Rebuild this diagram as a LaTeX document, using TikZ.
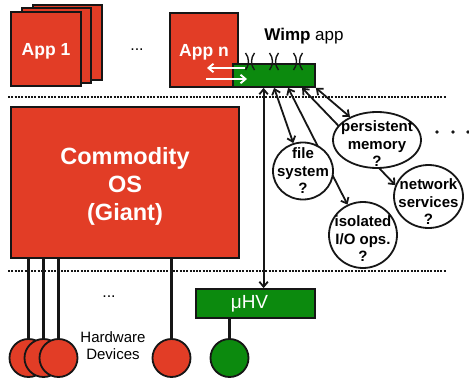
\documentclass[tikz,border=0pt]{standalone}
\usepackage{fontspec}
\setmainfont{Liberation Sans}
\usetikzlibrary{arrows.meta,shapes.geometric,backgrounds}
\definecolor{osred}{RGB}{226,61,38}
\definecolor{wgreen}{RGB}{12,138,14}
\definecolor{edge}{RGB}{22,22,22}

\begin{document}
\begin{tikzpicture}[x=1pt,y=-1pt,
  >={Straight Barb[length=5pt,width=8.5pt]},
  redbox/.style={draw=edge, line width=2.2pt, fill=osred, text=white,
    font=\fontsize{17.5}{20}\selectfont\bfseries, inner sep=0pt, text depth=0pt},
  greenbox/.style={draw=edge, line width=1.8pt, fill=wgreen, inner sep=0pt},
  bubble/.style={ellipse, draw=edge, line width=1.8pt, fill=white, inner sep=0pt},
  bubbletext/.style={align=center, inner sep=0pt,
    font=\fontsize{15}{17.5}\selectfont\bfseries},
  device/.style={circle, draw=edge, line width=1.8pt, minimum size=38pt, inner sep=0pt},
  link/.style={edge, line width=1.8pt, <->},
  wire/.style={edge, line width=2.2pt},
  dotline/.style={edge, line width=2.2pt, dash pattern=on 2pt off 1.3pt},
  whitearrow/.style={white, line width=1.9pt, ->},
  junction/.style={edge, line width=1.4pt},
  plain/.style={font=\fontsize{15}{17}\selectfont, align=center, inner sep=0pt}]

\useasboundingbox (0,0) rectangle (469,380);

% application stack
\node[redbox, minimum width=69pt, minimum height=75pt] (app1c) at (67.5,42.5) {};
\node[redbox, minimum width=69pt, minimum height=75pt] (app1b) at (56.5,45.5) {};
\node[redbox, minimum width=70pt, minimum height=74pt] (app1) at (46,49) {App 1};
\node[font=\fontsize{16}{18}\selectfont] (adots) at (137,50) {...};
\node[redbox, minimum width=68pt, minimum height=74pt] (appn) at (204,50) {App n};

% Wimp app bar
\node[greenbox, minimum width=82pt, minimum height=23pt] (bar) at (274,75.5) {};
\node[font=\fontsize{17}{20}\selectfont] (wlabel) at (304,36) {\textbf{Wimp} app};

% commodity OS
\node[redbox, minimum width=228pt, minimum height=151pt] (os) at (125,182.5) {};
\node[text=white, font=\fontsize{23.5}{28}\selectfont\bfseries, align=center, inner sep=0pt]
  (oslabel) at ([yshift=-4pt]os.center) {Commodity\\OS\\(Giant)};

% micro-hypervisor
\node[greenbox, minimum width=119pt, minimum height=29pt] (hv) at (255.5,303.5) {};
\node[text=white, font=\fontsize{19}{22}\selectfont, inner sep=0pt]
  (hvlabel) at ([xshift=-6pt]hv.center) {μHV};

% services
\node[bubble, minimum width=60pt, minimum height=57pt,
  label={[bubbletext]center:file\\system\\?}] (fs) at (303,171) {};
\node[bubble, minimum width=88pt, minimum height=56pt,
  label={[bubbletext, yshift=-4pt]center:persistent\\memory\\?}] (pm) at (377,140) {};
\node[bubble, minimum width=69pt, minimum height=63pt,
  label={[bubbletext, yshift=-5.5pt]center:network\\services\\?}] (net) at (428.5,196.5) {};
\node[bubble, minimum width=68pt, minimum height=66pt,
  label={[bubbletext, yshift=-4pt]center:isolated\\I/O ops.\\?}] (iso) at (363,235) {};

% hardware devices
\node[device, fill=osred] (d1) at (28.5,358) {};
\node[device, fill=osred] (d2) at (43.5,358) {};
\node[device, fill=osred] (d3) at (58.5,358) {};
\node[device, fill=osred] (d4) at (171.5,358) {};
\node[device, fill=wgreen] (d5) at (229.5,358) {};
\node[font=\fontsize{16}{18}\selectfont] (hdots) at (109,297) {...};
\node[plain] (hwlabel) at (113,345.5) {Hardware\\Devices};

% connection points on the bottom of the bar
\coordinate (b1) at ([xshift=31.5pt]bar.south west);
\coordinate (b2) at ([xshift=42pt]bar.south west);
\coordinate (b3) at ([xshift=56pt]bar.south west);
\coordinate (b4) at ([xshift=70pt]bar.south west);

\begin{pgfonlayer}{background}
  % privilege boundaries
  \draw[dotline] (8,97) -- (446,97);
  \draw[dotline] (8,271) -- (446,271);
  % device wires
  \draw[wire] (os.south -| d1) -- (d1);
  \draw[wire, line width=3pt] (os.south -| d2) -- (d2);
  \draw[wire] (os.south -| d3) -- (d3);
  \draw[wire] (os.south -| d4) -- (d4);
  \draw[wire] (hv.south -| d5) -- (d5);
  % Wimp links
  \draw[link] (b1) -- (b1 |- hv.north);
  \draw[link] (b2) -- (fs);
  \draw[link] (b3) -- (iso);
  \draw[link] (b4) -- (net.161);
  \draw[link] (bar.south east) -- (pm);
\end{pgfonlayer}

% calls between App n and the Wimp app
\coordinate (wa1) at (245,68);
\coordinate (wa2) at (207,68);
\coordinate (wb1) at (206,79);
\coordinate (wb2) at (247,79);
\draw[whitearrow] (wa1) -- (wa2);
\draw[whitearrow] (wb1) -- (wb2);

% interface marks on top of the bar
\foreach \jx in {250,274,298} {
  \draw[junction] (\jx-4.5,53) .. controls (\jx-0.5,58) and (\jx-0.5,65) .. (\jx-4.5,70);
  \draw[junction] (\jx+4.5,53) .. controls (\jx+0.5,58) and (\jx+0.5,65) .. (\jx+4.5,70);
}

% more services
\foreach \dx in {437,453,468} \fill[edge] (\dx,132) circle (1.9pt);

\end{tikzpicture}
\end{document}
